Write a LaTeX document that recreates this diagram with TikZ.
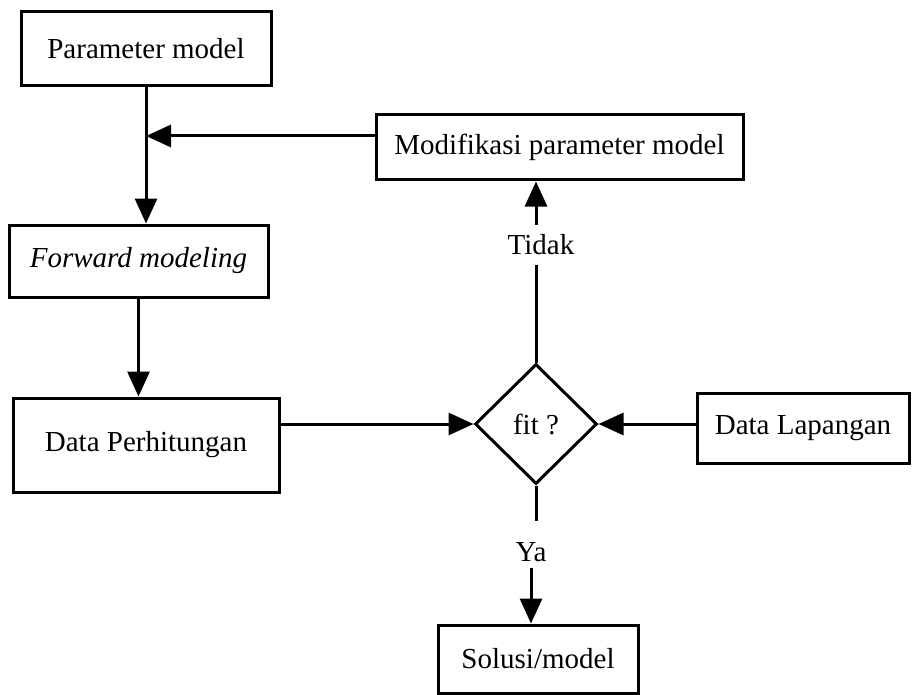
\documentclass[tikz,border=0pt]{standalone}
\usepackage{fontspec}
\setmainfont{Liberation Serif}
\usetikzlibrary{shapes.geometric,arrows.meta}
\tikzstyle{box}=[draw, rectangle, inner sep=0pt, line width=3pt]
\tikzstyle{decision}=[draw, diamond, aspect=1, inner sep=0pt, line width=3pt, minimum width=122pt, minimum height=120pt]
\tikzstyle{l}=[draw=none, inner sep=10pt]
\tikzstyle{flow}=[line width=3pt, -{Triangle[length=25pt,width=22pt]}]

\begin{document}
\begin{tikzpicture}[x=1pt, y=-1pt, font=\fontsize{29}{35}\selectfont]
\useasboundingbox (0,0) rectangle (912,695);
\foreach \n/\x/\y/\w/\h/\t in {pm/146/49/250/74/Parameter model, mod/559.5/147.5/367/65/Modifikasi parameter model, fwd/138.5/261/259/72/\textit{Forward modeling}, dp/146/445/266/94/Data Perhitungan, dl/803/428/212/70/Data Lapangan, sol/538/659/200/68/{Solusi/model}}
  \node[box, minimum width=\w pt, minimum height=\h pt] (\n) at (\x, \y) {\t};
\node[decision] (fit) at (536,424) {fit ?};
\node[l] (tidak) at (541,245) {Tidak};
\node[l, inner sep=6pt] (ya) at (531,552) {Ya};
\coordinate (j) at (146,136);
\draw[flow] (pm.south) -- (pm.south |- fwd.north);
\draw[flow] (mod.west |- j) -- (j);
\draw[flow] (fwd.south) -- (fwd.south |- dp.north);
\draw[flow] (dp.east |- fit.west) -- (fit.west);
\draw[flow] (fit.east -| dl.west) -- (fit.east);
\draw[line width=3pt] (fit.north) -- (fit.north |- tidak.south);
\draw[flow] (tidak.north -| fit.north) -- (fit.north |- mod.south);
\draw[line width=3pt, shorten >=15pt] (fit.south) -- (fit.south |- ya.north);
\draw[flow] (ya.south) -- (ya.south |- sol.north);
\end{tikzpicture}
\end{document}
